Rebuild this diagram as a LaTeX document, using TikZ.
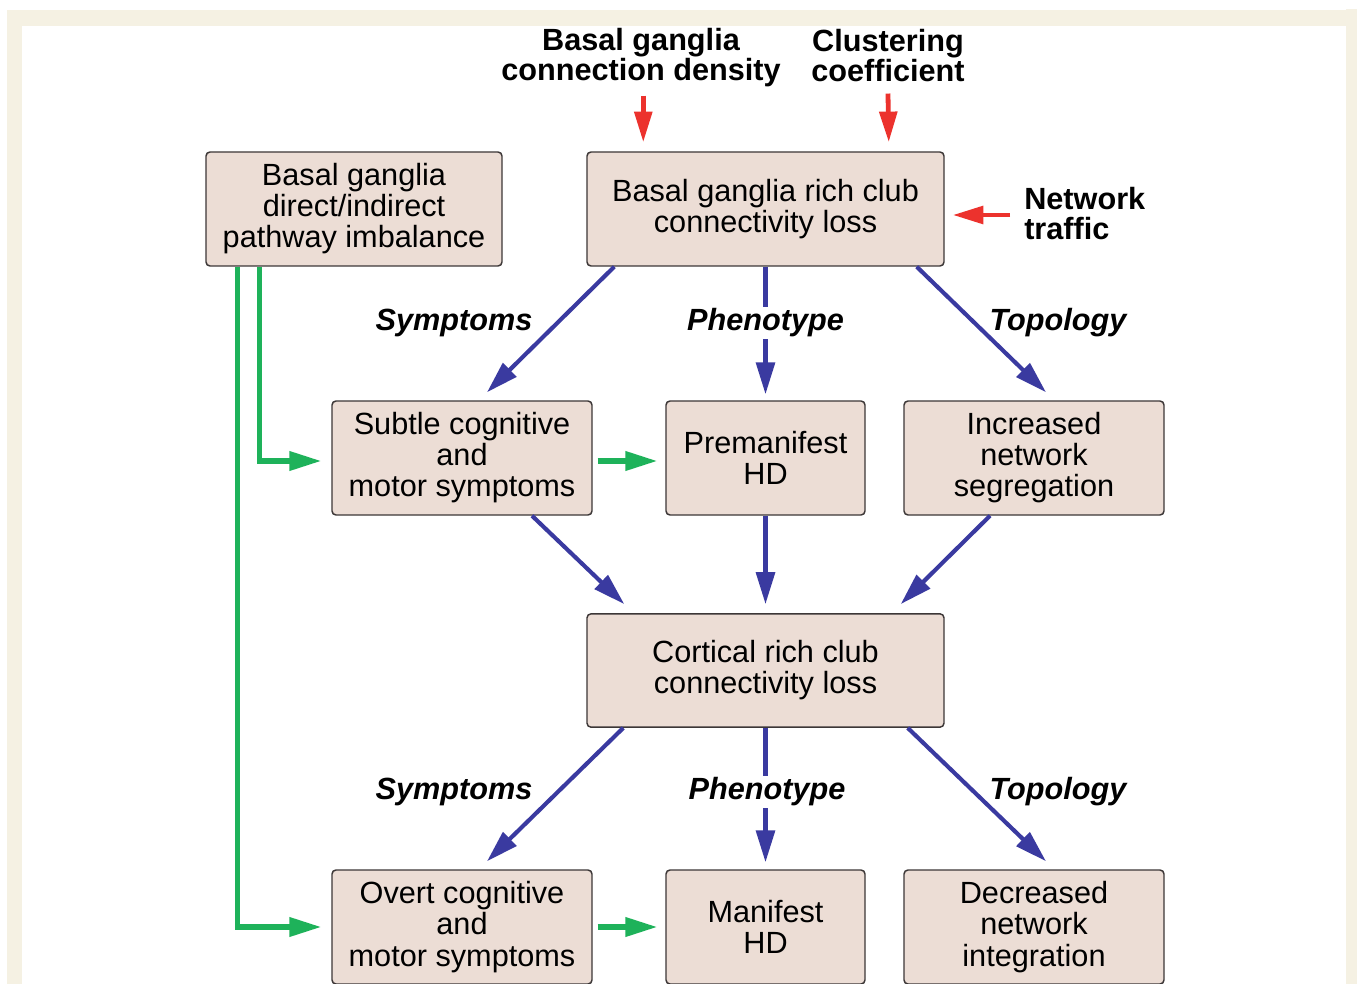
\documentclass[tikz,border=0pt]{standalone}
\usepackage{fontspec}
\setmainfont{Liberation Sans}
\usetikzlibrary{arrows.meta,calc}
\definecolor{boxfill}{RGB}{236,221,213}
\definecolor{boxline}{RGB}{60,55,55}
\definecolor{arblue}{RGB}{58,58,160}
\definecolor{arred}{RGB}{236,50,45}
\definecolor{argreen}{RGB}{30,178,90}
\definecolor{framec}{RGB}{245,241,227}
\tikzset{
  box/.style={draw=boxline, line width=1.1pt, fill=boxfill, rounded corners=3pt,
    align=center, inner sep=0pt, minimum height=85.5pt,
    font=\fontsize{23}{23.3}\selectfont},
  wbox/.style={box, minimum width=195pt},
  mbox/.style={box, minimum width=149.25pt},
  lbox/.style={box, minimum width=267.75pt},
  toplabel/.style={align=center, inner sep=0pt, font=\fontsize{23}{22.5}\selectfont\bfseries},
  armlabel/.style={inner sep=2pt, font=\fontsize{23}{23}\selectfont\bfseries\itshape},
  bluearrow/.style={draw=arblue, line width=3.1pt, -{Triangle[length=24pt,width=14pt]}, arblue},
  redarrow/.style={draw=arred, line width=3.6pt, -{Triangle[length=23pt,width=13pt]}, arred},
  greenarrow/.style={draw=argreen, line width=3.8pt, -{Triangle[length=24pt,width=14pt]}, argreen},
}
\begin{document}
\begin{tikzpicture}[x=0.75pt,y=-0.75pt]
% background and frame
\fill[white] (0,0) rectangle (1357,984);
\useasboundingbox (0,0) rectangle (1357,984);
\fill[framec] (7,10) rectangle (22,984);
\fill[framec] (7,10) rectangle (1346,26);
\fill[framec] (1346,9) rectangle (1357,984);

% boxes
\node[box, minimum width=222pt] (bgp) at (354,209) {Basal ganglia\\direct/indirect\\pathway imbalance};
\node[lbox] (bgrc) at (765.5,209) {Basal ganglia rich club\\connectivity loss};
\node[wbox] (subtle) at (462,458) {Subtle cognitive\\and\\motor symptoms};
\node[mbox] (prem) at (765.5,458) {Premanifest\\HD};
\node[wbox] (incr) at (1034,458) {Increased\\network\\segregation};
\node[lbox, minimum height=85pt] (cort) at (765.5,670.5) {Cortical rich club\\connectivity loss};
\node[wbox] (overt) at (462,927) {Overt cognitive\\and\\motor symptoms};
\node[mbox] (man) at (765.5,927) {Manifest\\HD};
\node[wbox] (decr) at (1034,927) {Decreased\\network\\integration};

% top labels
\node[toplabel] (bgcd) at (641,58) {Basal ganglia\\connection density};
\node[toplabel] (clu) at (888,56) {Clustering\\coefficient};
\node[toplabel, align=left, anchor=west] (nt) at (1024,214) {Network\\traffic};

% red arrows
\draw[redarrow] ($(bgcd.south -| bgrc.north west)+(57,8)$) -- ($(bgrc.north west)+(57,-9)$);
\draw[redarrow] ($(clu.south)+(0,11)$) -- ($(bgrc.north east)+(-56,-9)$);
\draw[redarrow] ($(nt.west)+(-14,1)$) -- ($(bgrc.east)+(8,6)$);

% blue arrows, upper
\draw[bluearrow] ($(bgrc.south west)+(28,0)$) -- ($(subtle.north)+(25,-8)$);
\draw[bluearrow] (bgrc.south) -- ($(prem.north)+(0,-6)$);
\draw[bluearrow] ($(bgrc.south east)+(-28,0)$) -- ($(incr.north)+(12,-8)$);
\node[armlabel] (sym1) at (454,323) {Symptoms};
\node[armlabel, fill=white, inner sep=1pt] (phe1) at (765.5,323) {Phenotype};
\node[armlabel] (top1) at (1058,323) {Topology};

% blue arrows, middle
\draw[bluearrow] ($(subtle.south)+(70,0)$) -- ($(cort.north west)+(38,-9)$);
\draw[bluearrow] (prem.south) -- ($(cort.north)+(0,-9)$);
\draw[bluearrow] ($(incr.south)+(-44,0)$) -- ($(cort.north east)+(-44,-9)$);

% blue arrows, lower
\draw[bluearrow] ($(cort.south west)+(37,0)$) -- ($(overt.north)+(25,-8)$);
\draw[bluearrow] (cort.south) -- ($(man.north)+(0,-7)$);
\draw[bluearrow] ($(cort.south east)+(-37,0)$) -- ($(decr.north)+(12,-8)$);
\node[armlabel] (sym2) at (454,792) {Symptoms};
\node[armlabel, fill=white, inner sep=1pt] (phe2) at (767,792) {Phenotype};
\node[armlabel] (top2) at (1058,792) {Topology};

% green arrows
\draw[greenarrow] ($(bgp.south west)+(54,0)$) |- ($(subtle.west)+(-10,3)$);
\draw[greenarrow] ($(bgp.south west)+(32,0)$) |- ($(overt.west)+(-10,0)$);
\draw[greenarrow] ($(subtle.east)+(5,3)$) -- ($(prem.west)+(-8,3)$);
\draw[greenarrow] ($(overt.east)+(5,0)$) -- ($(man.west)+(-8,0)$);
\end{tikzpicture}
\end{document}
